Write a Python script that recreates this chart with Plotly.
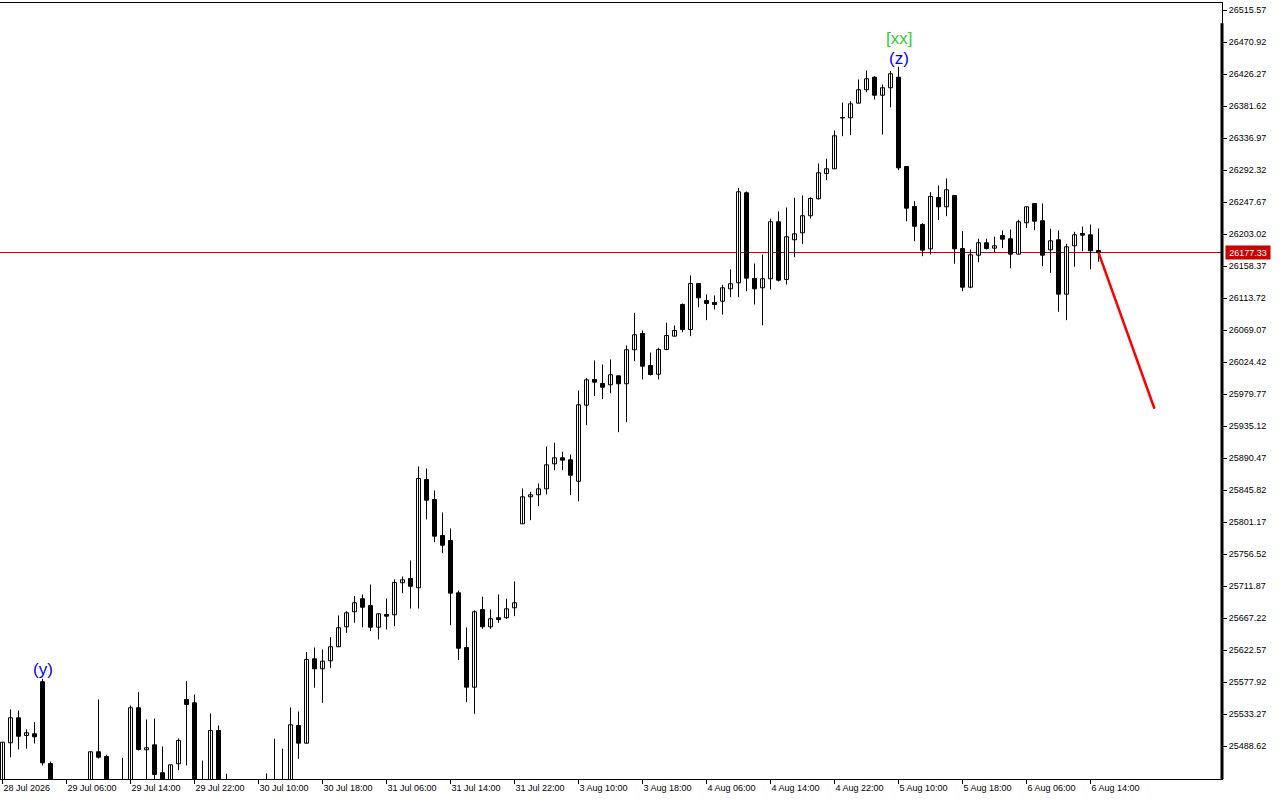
import plotly.graph_objects as go

# ---------------- data ----------------
open_ = [25428.1, 25493.2, 25528.1, 25503.4, 25505.8, 25578.4, 25464.4, 25428.1, 25414.1, 25421.1,
         25407.1, 25428.1, 25480.7, 25474.1, 25428.1, 25435.0, 25428.1, 25542.1, 25483.5, 25490.4,
         25451.4, 25428.1, 25463.9, 25553.7, 25549.0, 25428.1, 25428.1, 25510.4, 25435.0, 25421.1,
         25407.1, 25414.1, 25400.2, 25414.1, 25425.3, 25435.0, 25428.1, 25517.4, 25492.7, 25610.4,
         25596.5, 25607.7, 25627.2, 25655.1, 25676.0, 25694.2, 25684.8, 25654.5, 25672.3, 25671.8,
         25716.5, 25722.5, 25709.5, 25860.6, 25832.7, 25782.5, 25775.5, 25702.5, 25626.2, 25570.8,
         25679.2, 25655.1, 25667.7, 25667.7, 25681.6, 25798.8, 25836.5, 25839.3, 25847.6, 25882.5,
         25890.9, 25888.1, 25858.2, 25964.3, 26000.2, 25994.6, 25992.8, 26005.3, 25994.2, 26041.6,
         26064.3, 26019.7, 26007.5, 26042.0, 26060.6, 26104.8, 26069.9, 26134.1, 26110.4, 26107.6,
         26109.4, 26126.7, 26135.1, 26260.7, 26141.1, 26128.1, 26140.7, 26220.2, 26139.7, 26195.1,
         26204.8, 26228.6, 26252.3, 26287.6, 26294.1, 26365.0, 26365.3, 26385.7, 26404.4, 26421.9,
         26396.8, 26407.2, 26421.9, 26297.3, 26241.5, 26216.4, 26182.5, 26254.1, 26241.1, 26256.9,
         26182.9, 26128.9, 26173.6, 26190.9, 26183.4, 26201.1, 26196.5, 26175.0, 26218.8, 26245.7,
         26221.6, 26181.1, 26195.1, 26119.2, 26186.7, 26203.9, 26202.0, 26180.1]

high = [25494.1, 25539.7, 25538.3, 25511.8, 25522.0, 25582.5, 25467.1, 25439.2, 25435.0, 25430.9,
        25436.4, 25480.7, 25553.7, 25476.5, 25440.6, 25472.3, 25545.3, 25563.8, 25525.7, 25527.1,
        25488.1, 25462.5, 25499.2, 25579.2, 25560.6, 25468.5, 25534.1, 25517.4, 25450.0, 25435.0,
        25428.1, 25425.3, 25428.1, 25450.4, 25498.8, 25484.9, 25542.5, 25536.9, 25619.7, 25626.2,
        25623.4, 25640.6, 25670.9, 25676.9, 25697.8, 25700.2, 25714.1, 25673.2, 25694.6, 25721.1,
        25725.3, 25747.6, 25878.8, 25876.0, 25845.3, 25814.6, 25792.3, 25705.7, 25654.1, 25677.8,
        25697.0, 25679.2, 25700.2, 25694.2, 25718.3, 25848.1, 25843.5, 25855.0, 25906.7, 25911.8,
        25899.3, 25895.5, 25984.8, 26002.5, 26026.7, 26021.1, 26028.1, 26005.3, 26047.6, 26093.2,
        26068.5, 26037.8, 26044.4, 26079.3, 26075.5, 26106.2, 26145.3, 26134.1, 26118.8, 26117.4,
        26132.3, 26153.6, 26267.6, 26262.5, 26162.0, 26174.6, 26224.4, 26234.6, 26240.1, 26253.7,
        26256.9, 26254.5, 26301.5, 26308.1, 26347.6, 26386.6, 26388.5, 26418.7, 26431.3, 26423.3,
        26411.8, 26430.3, 26436.5, 26297.3, 26248.9, 26218.2, 26261.5, 26270.8, 26280.6, 26256.9,
        26207.1, 26181.5, 26196.5, 26196.5, 26199.3, 26208.1, 26209.4, 26223.0, 26241.1, 26245.7,
        26245.7, 26210.4, 26208.1, 26189.5, 26206.2, 26213.6, 26216.4, 26210.8]

low = [25421.1, 25473.1, 25483.9, 25484.9, 25492.3, 25461.6, 25421.1, 25407.1, 25403.0, 25397.4,
       25400.2, 25421.1, 25471.3, 25421.1, 25414.1, 25414.1, 25421.1, 25482.5, 25435.0, 25439.2,
       25421.1, 25421.1, 25455.0, 25461.6, 25421.1, 25414.1, 25421.1, 25421.1, 25407.1, 25397.4,
       25393.2, 25389.0, 25393.2, 25407.1, 25414.1, 25416.9, 25421.1, 25470.9, 25492.3, 25570.0,
       25549.0, 25597.9, 25627.2, 25646.7, 25660.7, 25654.5, 25649.0, 25637.4, 25651.3, 25655.9,
       25702.0, 25680.6, 25680.6, 25804.8, 25773.1, 25757.8, 25657.3, 25608.5, 25549.9, 25533.7,
       25652.3, 25652.3, 25660.7, 25666.3, 25669.9, 25798.8, 25803.8, 25823.4, 25839.7, 25873.6,
       25873.6, 25838.7, 25830.3, 25936.4, 25976.9, 25972.7, 25981.0, 25926.6, 25940.6, 26025.7,
       26000.2, 26005.7, 26000.2, 26041.0, 26060.6, 26066.1, 26060.6, 26101.0, 26082.9, 26097.8,
       26090.8, 26115.0, 26115.0, 26123.4, 26104.8, 26075.9, 26125.7, 26136.9, 26132.7, 26170.8,
       26189.5, 26224.8, 26251.3, 26278.2, 26294.1, 26339.6, 26341.0, 26385.7, 26401.0, 26390.8,
       26342.0, 26380.1, 26292.2, 26221.0, 26193.1, 26172.2, 26174.6, 26222.4, 26228.0, 26161.6,
       26123.4, 26127.5, 26163.8, 26181.5, 26177.8, 26183.4, 26155.4, 26175.0, 26211.3, 26208.5,
       26158.2, 26149.0, 26094.6, 26082.9, 26157.4, 26179.2, 26154.0, 26164.4]

close = [25494.1, 25528.1, 25502.4, 25507.2, 25501.6, 25465.3, 25428.1, 25414.1, 25421.1, 25407.1,
         25428.1, 25480.7, 25473.1, 25428.1, 25435.0, 25421.1, 25542.1, 25483.9, 25486.3, 25449.0,
         25428.1, 25462.5, 25496.4, 25546.7, 25428.1, 25435.0, 25510.4, 25428.1, 25421.1, 25407.1,
         25414.1, 25400.2, 25414.1, 25425.3, 25435.0, 25428.1, 25518.4, 25492.7, 25609.5, 25596.5,
         25607.1, 25627.2, 25653.7, 25674.6, 25688.6, 25682.4, 25654.5, 25673.2, 25669.9, 25716.9,
         25720.7, 25711.7, 25862.0, 25831.7, 25781.5, 25768.9, 25702.0, 25625.2, 25570.8, 25676.0,
         25655.1, 25666.3, 25665.3, 25680.2, 25688.6, 25836.5, 25839.3, 25847.6, 25881.1, 25890.9,
         25887.6, 25866.6, 25964.8, 25999.7, 25996.4, 25989.4, 26006.7, 25994.2, 26041.6, 26062.5,
         26018.7, 26007.1, 26042.0, 26061.5, 26068.5, 26069.9, 26134.1, 26114.1, 26106.2, 26104.8,
         26128.1, 26133.7, 26262.0, 26141.5, 26126.7, 26140.7, 26220.2, 26138.7, 26199.3, 26203.4,
         26228.6, 26252.7, 26288.6, 26294.1, 26340.2, 26365.7, 26384.8, 26404.4, 26419.7, 26396.8,
         26407.2, 26426.7, 26295.5, 26239.2, 26214.0, 26180.6, 26255.5, 26241.1, 26264.8, 26182.5,
         26128.9, 26174.1, 26190.9, 26182.9, 26186.7, 26195.9, 26175.0, 26220.2, 26241.1, 26221.0,
         26173.6, 26193.7, 26119.2, 26185.3, 26202.0, 26201.5, 26179.7, 26177.33]

x_tick_index = [0, 8, 16, 24, 32, 40, 48, 56, 64, 72, 80, 88, 96, 104, 112, 120, 128, 136]
x_tick_labels = ["28 Jul 2026", "29 Jul 06:00", "29 Jul 14:00", "29 Jul 22:00", "30 Jul 10:00",
                 "30 Jul 18:00", "31 Jul 06:00", "31 Jul 14:00", "31 Jul 22:00", "3 Aug 10:00",
                 "3 Aug 18:00", "4 Aug 06:00", "4 Aug 14:00", "4 Aug 22:00", "5 Aug 10:00",
                 "5 Aug 18:00", "6 Aug 06:00", "6 Aug 14:00"]

y_tick_values = [25488.62, 25533.27, 25577.92, 25622.57, 25667.22, 25711.87, 25756.52, 25801.17,
                 25845.82, 25890.47, 25935.12, 25979.77, 26024.42, 26069.07, 26113.72, 26158.37,
                 26203.02, 26247.67, 26292.32, 26336.97, 26381.62, 26426.27, 26470.92, 26515.57]

bid_price = 26177.33

# projection line (red)
proj_x = [137, 144]
proj_y = [26177.33, 25959.3]

# wave labels
label_text = ["(y)", "(z)", "[xx]"]
label_x = [5, 112, 112]
label_y = [25595.5, 26448.3, 26476.2]
label_color = ["#0000ff", "#0000ff", "#32cd32"]

# ---------------- figure ----------------
n = len(close)
idx = list(range(n))

wx, wy = [], []
for i in idx:
    wx += [i, i, None]
    wy += [low[i], high[i], None]

bull = [i for i in idx if close[i] >= open_[i]]
bear = [i for i in idx if close[i] < open_[i]]

fig = go.Figure()
fig.add_trace(go.Scatter(x=wx, y=wy, mode="lines", line=dict(color="black", width=1),
                         hoverinfo="skip", showlegend=False))
fig.add_trace(go.Bar(x=bull, y=[close[i] - open_[i] for i in bull], base=[open_[i] for i in bull],
                     width=0.5, marker=dict(color="white", line=dict(color="black", width=1)),
                     showlegend=False))
fig.add_trace(go.Bar(x=bear, y=[open_[i] - close[i] for i in bear], base=[close[i] for i in bear],
                     width=0.5, marker=dict(color="black", line=dict(color="black", width=1)),
                     showlegend=False))
fig.add_trace(go.Scatter(x=proj_x, y=proj_y, mode="lines", line=dict(color="#ff0000", width=2.5),
                         showlegend=False))

for t, lx, ly, c in zip(label_text, label_x, label_y, label_color):
    fig.add_annotation(x=lx, y=ly, text=t, showarrow=False, xanchor="center", yanchor="middle",
                       font=dict(family="Liberation Sans, Arial", size=17, color=c))

# bid line and price tag
fig.add_shape(type="line", xref="paper", x0=0, x1=1, yref="y", y0=bid_price, y1=bid_price,
              line=dict(color="#c80000", width=1), layer="below")
fig.add_annotation(xref="paper", x=1, y=bid_price, text=f"{bid_price:.2f}", showarrow=False,
                   xanchor="left", yanchor="middle", xshift=3, width=42, height=11, borderpad=1,
                   bgcolor="#cc0000", font=dict(family="Liberation Sans, Arial", size=9, color="white"))
# thick right border
fig.add_shape(type="line", xref="paper", yref="paper", x0=1, x1=1, y0=0, y1=0.974,
              line=dict(color="black", width=3))

plot_w = 1222.0
x0 = -2.5 / 8.0
x1 = x0 + plot_w / 8.0

font = dict(family="Liberation Sans, Arial", size=9, color="black")
fig.update_layout(
    width=1280, height=800, autosize=False,
    margin=dict(l=0, r=58, t=3, b=21, pad=0),
    paper_bgcolor="white", plot_bgcolor="white",
    barmode="overlay", showlegend=False, font=font,
    xaxis=dict(range=[x0, x1], showgrid=False, zeroline=False, showline=True, linecolor="black",
               linewidth=1, mirror=True, tickmode="array", tickvals=x_tick_index,
               ticktext=x_tick_labels, ticks="outside", ticklen=4, tickcolor="black",
               ticklabelposition="outside right", tickfont=font, fixedrange=True),
    yaxis=dict(range=[25442.71, 26525.46], side="right", showgrid=False, zeroline=False,
               showline=True, linecolor="black", linewidth=1, mirror=True, tickmode="array",
               tickvals=y_tick_values, ticktext=[f"{v:.2f}" for v in y_tick_values],
               ticks="outside", ticklen=4, tickcolor="black", tickfont=font, fixedrange=True),
)

fig.write_html("out.html", config={"displayModeBar": False},
               post_script="document.body.style.margin='0';document.body.style.padding='0';")
